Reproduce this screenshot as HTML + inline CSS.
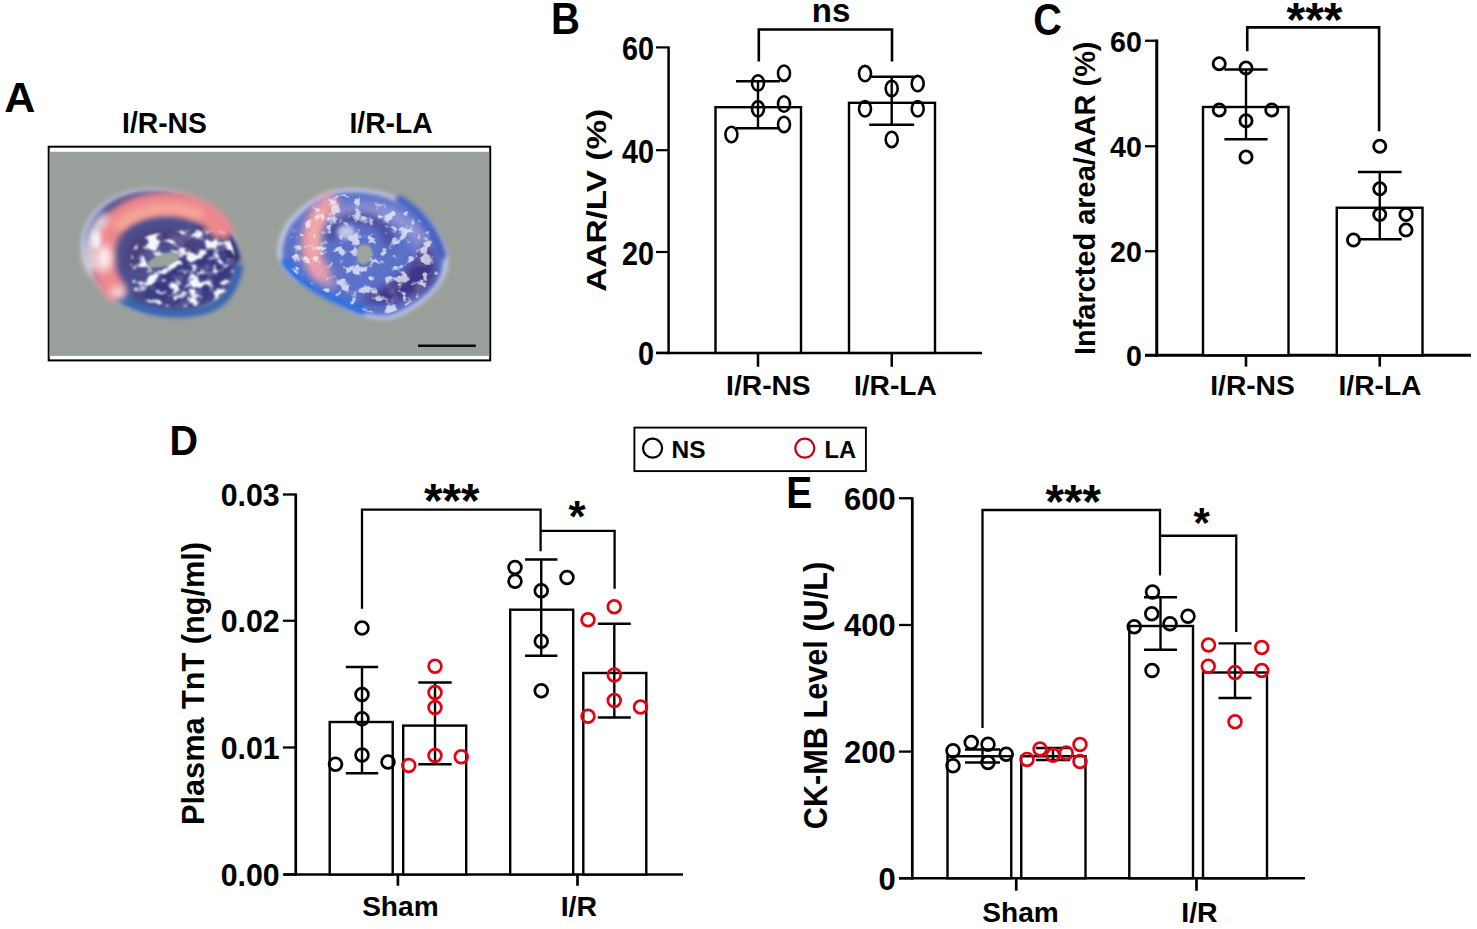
<!DOCTYPE html>
<html><head><meta charset="utf-8"><title>Figure</title>
<style>
html,body{margin:0;padding:0;background:#fff;}
body{width:1477px;height:929px;overflow:hidden;}
svg{display:block;font-family:"Liberation Sans", sans-serif;}
</style></head><body>
<svg width="1477" height="929" viewBox="0 0 1477 929">
<defs><filter id="b1" filterUnits="userSpaceOnUse" x="40" y="140" width="460" height="230"><feGaussianBlur stdDeviation="1"/></filter><filter id="b2" filterUnits="userSpaceOnUse" x="40" y="140" width="460" height="230"><feGaussianBlur stdDeviation="2"/></filter><filter id="b3" filterUnits="userSpaceOnUse" x="40" y="140" width="460" height="230"><feGaussianBlur stdDeviation="3"/></filter><filter id="b4" filterUnits="userSpaceOnUse" x="40" y="140" width="460" height="230"><feGaussianBlur stdDeviation="4"/></filter><filter id="b7" filterUnits="userSpaceOnUse" x="40" y="140" width="460" height="230"><feGaussianBlur stdDeviation="7"/></filter><filter id="spk" filterUnits="userSpaceOnUse" x="40" y="140" width="460" height="230"><feTurbulence type="fractalNoise" baseFrequency="0.075 0.1" numOctaves="3" seed="7" result="n"/><feColorMatrix in="n" type="matrix" values="0 0 0 0 0.93  0 0 0 0 0.94  0 0 0 0 1  9 0 0 0 -4.5" result="w"/><feComposite in="w" in2="SourceAlpha" operator="in" result="c"/><feGaussianBlur in="c" stdDeviation="0.8"/></filter><filter id="spk2" filterUnits="userSpaceOnUse" x="40" y="140" width="460" height="230"><feTurbulence type="fractalNoise" baseFrequency="0.08 0.09" numOctaves="3" seed="11" result="n"/><feColorMatrix in="n" type="matrix" values="0 0 0 0 0.93  0 0 0 0 0.94  0 0 0 0 1  0 8 0 0 -4.4" result="w"/><feComposite in="w" in2="SourceAlpha" operator="in" result="c"/><feGaussianBlur in="c" stdDeviation="0.6"/></filter><filter id="drk" filterUnits="userSpaceOnUse" x="40" y="140" width="460" height="230"><feTurbulence type="fractalNoise" baseFrequency="0.07 0.09" numOctaves="3" seed="23" result="n"/><feColorMatrix in="n" type="matrix" values="0 0 0 0 0.12  0 0 0 0 0.1  0 0 0 0 0.3  0 0 6 0 -3.1" result="w"/><feComposite in="w" in2="SourceAlpha" operator="in" result="c"/><feGaussianBlur in="c" stdDeviation="0.8"/></filter><clipPath id="frameclip"><rect x="49" y="152" width="440" height="204"/></clipPath></defs>
<text x="19.7" y="111.5" font-size="43" font-weight="bold" fill="#000" text-anchor="middle">A</text>
<text x="164.5" y="133" font-size="28.8" font-weight="bold" fill="#000" text-anchor="middle" textLength="84.8" lengthAdjust="spacingAndGlyphs">I/R-NS</text>
<text x="391.1" y="133" font-size="28.8" font-weight="bold" fill="#000" text-anchor="middle" textLength="83.3" lengthAdjust="spacingAndGlyphs">I/R-LA</text>
<rect x="48.7" y="146.7" width="441.5" height="213.7" fill="#fff" stroke="#000" stroke-width="2"/>
<rect x="49.6" y="151.8" width="439.7" height="204.1" fill="#99a09b"/>
<g clip-path="url(#frameclip)">
<g>
<ellipse cx="160.6" cy="252" rx="80" ry="63" transform="rotate(14 160.6 252)" fill="#b9bdd6" filter="url(#b2)"/>
<ellipse cx="161.5" cy="252.5" rx="77" ry="60" transform="rotate(14 161 252)" fill="#4b4f8e" filter="url(#b2)"/>
<path d="M118,296 C140,312 175,318 205,310 C222,305 234,292 239,268" fill="none" stroke="#3a66b2" stroke-width="8.5" stroke-linecap="round" filter="url(#b2)"/>
<path d="M150,278 C170,262 200,240 222,236 C236,250 236,275 222,292 C200,306 165,306 140,296Z" fill="#363880" filter="url(#b4)"/>
<path d="M196,232 C215,225 232,240 235,262" fill="none" stroke="#33336e" stroke-width="12" filter="url(#b2)"/>
<path d="M114,289 C98,268 100,238 118,220 C138,202 175,199 200,211 C210,216 218,224 221,229" fill="none" stroke="#ee888d" stroke-width="23" stroke-linecap="round" filter="url(#b3)"/>
<path d="M120,225 C140,208 172,205 198,214" fill="none" stroke="#f6a597" stroke-width="11" stroke-linecap="round" filter="url(#b3)"/>
<path d="M92,268 C86,250 90,232 104,218" fill="none" stroke="#f4eef2" stroke-width="9" stroke-linecap="round" filter="url(#b4)"/>
<ellipse cx="104" cy="258" rx="8" ry="13" fill="#fbeff0" filter="url(#b4)"/>
<ellipse cx="96" cy="240" rx="5" ry="9" fill="#f2f0f6" filter="url(#b2)"/>
<ellipse cx="118" cy="292" rx="8" ry="5" fill="#f6e6ea" filter="url(#b4)"/>
<path d="M136,268 C128,250 138,236 160,236 C182,234 196,244 190,258" fill="none" stroke="#4a3b6e" stroke-width="10" filter="url(#b4)"/>
<path d="M132,272 C126,250 140,234 162,233 C185,230 205,226 224,232 C240,250 238,280 222,296 C196,312 160,310 134,296Z" fill="#000" filter="url(#drk)"/>
<path d="M132,272 C126,250 140,234 162,233 C185,230 205,226 224,232 C240,250 238,280 222,296 C196,312 160,310 134,296Z" fill="#000" filter="url(#spk)"/>
<ellipse cx="164" cy="260" rx="16.5" ry="6.5" transform="rotate(-18 164 260)" fill="#9aa29e" filter="url(#b1)"/>
</g>
<g>
<path d="M279,249 C282,232 288,222 294,217 C304,206 312,201 321,197 C330,192 338,190 347,190 C360,189 372,191 384,194 C398,199 412,207 422,216 C432,225 438,234 442,243 C446,251 447,259 446,267 C444,276 440,283 435,289 C428,297 421,303 413,307 C404,313 396,317 387,318 C378,319 370,317 361,314 C350,310 340,304 330,298 C318,292 307,286 297,280 C290,275 286,270 283,265 C280,260 279,254 279,249Z" fill="#c3c9e6" filter="url(#b2)" transform="translate(363 254) scale(1.02) translate(-363 -254)"/>
<path d="M279,249 C282,232 288,222 294,217 C304,206 312,201 321,197 C330,192 338,190 347,190 C360,189 372,191 384,194 C398,199 412,207 422,216 C432,225 438,234 442,243 C446,251 447,259 446,267 C444,276 440,283 435,289 C428,297 421,303 413,307 C404,313 396,317 387,318 C378,319 370,317 361,314 C350,310 340,304 330,298 C318,292 307,286 297,280 C290,275 286,270 283,265 C280,260 279,254 279,249Z" fill="#5c72c8" filter="url(#b2)" transform="translate(363 254) scale(0.96) translate(-363 -254)"/>
<path d="M340,215 C365,205 400,212 418,235 C430,255 425,280 405,292" fill="none" stroke="#8f93d4" stroke-width="16" stroke-linecap="round" filter="url(#b4)"/>
<path d="M286,262 C300,282 330,298 362,310" fill="none" stroke="#3570dc" stroke-width="10" stroke-linecap="round" filter="url(#b2)"/>
<path d="M400,200 C420,212 436,232 442,255" fill="none" stroke="#4a63c2" stroke-width="9" stroke-linecap="round" filter="url(#b2)"/>
<path d="M360,300 C385,308 415,302 434,280 C438,264 434,250 424,242 C418,262 398,282 360,300Z" fill="#3d3488" filter="url(#b4)"/>
<path d="M360,300 C385,308 415,302 434,280 C438,264 434,250 424,242 C418,262 398,282 360,300Z" fill="#000" filter="url(#drk)"/>
<path d="M330,240 C332,226 345,216 362,218 C380,220 392,232 388,246" fill="none" stroke="#4a4596" stroke-width="9" filter="url(#b4)"/>
<path d="M330,203 C316,214 309,232 310,248 C311,258 315,266 320,272" fill="none" stroke="#f09ca6" stroke-width="18" stroke-linecap="round" filter="url(#b4)"/>
<path d="M318,268 C321,274 325,279 330,283" fill="none" stroke="#e9a0b4" stroke-width="12" stroke-linecap="round" opacity="0.7" filter="url(#b4)"/>
<path d="M322,212 C314,226 313,240 316,254" fill="none" stroke="#f7b0a8" stroke-width="8" stroke-linecap="round" filter="url(#b4)"/>
<path d="M279,249 C282,232 288,222 294,217 C304,206 312,201 321,197 C330,192 338,190 347,190 C360,189 372,191 384,194 C398,199 412,207 422,216 C432,225 438,234 442,243 C446,251 447,259 446,267 C444,276 440,283 435,289 C428,297 421,303 413,307 C404,313 396,317 387,318 C378,319 370,317 361,314 C350,310 340,304 330,298 C318,292 307,286 297,280 C290,275 286,270 283,265 C280,260 279,254 279,249Z" fill="#000" filter="url(#spk2)" opacity="0.72" transform="translate(363 254) scale(0.93) translate(-363 -254)"/>
<ellipse cx="346" cy="232" rx="9" ry="7" fill="#d9dcf4" opacity="0.8" filter="url(#b2)"/>
<path transform="translate(1 4)" d="M356,246 C358,240 366,238 370,244 C373,250 370,258 364,260 C358,262 354,254 356,246Z" fill="#9ba49f" filter="url(#b1)"/>
</g>
</g>
<line x1="418" y1="345.8" x2="475.8" y2="345.8" stroke="#0a0a0a" stroke-width="2.4" stroke-linecap="butt"/>
<text x="551" y="34.4" font-size="43.5" font-weight="bold" fill="#000" text-anchor="start" textLength="28.9" lengthAdjust="spacingAndGlyphs">B</text>
<line x1="668.6" y1="46.4" x2="668.6" y2="354.2" stroke="#000" stroke-width="2.5" stroke-linecap="butt"/>
<line x1="656" y1="352.9" x2="982" y2="352.9" stroke="#000" stroke-width="2.5" stroke-linecap="butt"/>
<line x1="656" y1="47.4" x2="668.6" y2="47.4" stroke="#000" stroke-width="2.2" stroke-linecap="butt"/>
<text x="653.9" y="59.9" font-size="34.1" font-weight="bold" fill="#000" text-anchor="end" textLength="32" lengthAdjust="spacingAndGlyphs">60</text>
<line x1="656" y1="150.2" x2="668.6" y2="150.2" stroke="#000" stroke-width="2.2" stroke-linecap="butt"/>
<text x="653.9" y="162.7" font-size="34.1" font-weight="bold" fill="#000" text-anchor="end" textLength="32" lengthAdjust="spacingAndGlyphs">40</text>
<line x1="656" y1="252" x2="668.6" y2="252" stroke="#000" stroke-width="2.2" stroke-linecap="butt"/>
<text x="653.9" y="264.5" font-size="34.1" font-weight="bold" fill="#000" text-anchor="end" textLength="32" lengthAdjust="spacingAndGlyphs">20</text>
<line x1="656" y1="352.9" x2="668.6" y2="352.9" stroke="#000" stroke-width="2.2" stroke-linecap="butt"/>
<text x="653.9" y="365.4" font-size="34.1" font-weight="bold" fill="#000" text-anchor="end" textLength="16" lengthAdjust="spacingAndGlyphs">0</text>
<text transform="translate(605.8,291.8) rotate(-90)" font-size="27.8" font-weight="bold" fill="#000" text-anchor="start" textLength="183" lengthAdjust="spacingAndGlyphs">AAR/LV (%)</text>
<rect x="715.5" y="107.2" width="85.5" height="245.7" fill="#fff" stroke="#000" stroke-width="2.4"/>
<rect x="849" y="102.8" width="86" height="250.09999999999997" fill="#fff" stroke="#000" stroke-width="2.4"/>
<line x1="758" y1="352.9" x2="758" y2="366.8" stroke="#000" stroke-width="2.5" stroke-linecap="butt"/>
<line x1="891.75" y1="352.9" x2="891.75" y2="366.8" stroke="#000" stroke-width="2.5" stroke-linecap="butt"/>
<text x="768.4" y="394.5" font-size="28.2" font-weight="bold" fill="#000" text-anchor="middle">I/R-NS</text>
<text x="895.4" y="394.5" font-size="28.2" font-weight="bold" fill="#000" text-anchor="middle">I/R-LA</text>
<line x1="758" y1="81.2" x2="758" y2="128.3" stroke="#000" stroke-width="2.4" stroke-linecap="butt"/>
<line x1="736" y1="81.2" x2="780" y2="81.2" stroke="#000" stroke-width="2.4" stroke-linecap="butt"/>
<line x1="736" y1="128.3" x2="780" y2="128.3" stroke="#000" stroke-width="2.4" stroke-linecap="butt"/>
<line x1="891.7" y1="76.8" x2="891.7" y2="124.7" stroke="#000" stroke-width="2.4" stroke-linecap="butt"/>
<line x1="869.2" y1="76.8" x2="914.2" y2="76.8" stroke="#000" stroke-width="2.4" stroke-linecap="butt"/>
<line x1="869.2" y1="124.7" x2="914.2" y2="124.7" stroke="#000" stroke-width="2.4" stroke-linecap="butt"/>
<ellipse cx="784" cy="73.2" rx="6.0" ry="7.7" fill="none" stroke="#000" stroke-width="2.6"/>
<ellipse cx="758" cy="83" rx="6.0" ry="7.7" fill="none" stroke="#000" stroke-width="2.6"/>
<ellipse cx="784" cy="104" rx="6.0" ry="7.7" fill="none" stroke="#000" stroke-width="2.6"/>
<ellipse cx="758" cy="108.8" rx="6.0" ry="7.7" fill="none" stroke="#000" stroke-width="2.6"/>
<ellipse cx="784" cy="124.4" rx="6.0" ry="7.7" fill="none" stroke="#000" stroke-width="2.6"/>
<ellipse cx="731.4" cy="134.5" rx="6.0" ry="7.7" fill="none" stroke="#000" stroke-width="2.6"/>
<ellipse cx="865" cy="73.6" rx="6.0" ry="7.7" fill="none" stroke="#000" stroke-width="2.6"/>
<ellipse cx="917.7" cy="83.6" rx="6.0" ry="7.7" fill="none" stroke="#000" stroke-width="2.6"/>
<ellipse cx="891.7" cy="88.5" rx="6.0" ry="7.7" fill="none" stroke="#000" stroke-width="2.6"/>
<ellipse cx="865" cy="108.8" rx="6.0" ry="7.7" fill="none" stroke="#000" stroke-width="2.6"/>
<ellipse cx="917.7" cy="108.8" rx="6.0" ry="7.7" fill="none" stroke="#000" stroke-width="2.6"/>
<ellipse cx="891.7" cy="139.4" rx="6.0" ry="7.7" fill="none" stroke="#000" stroke-width="2.6"/>
<polyline points="758.8,61.4 758.8,29.5 892,29.5 892,61.4" fill="none" stroke="#000" stroke-width="2.6" stroke-linejoin="miter"/>
<text x="831" y="21.9" font-size="33" font-weight="bold" fill="#000" text-anchor="middle">ns</text>
<text x="1033.3" y="34.5" font-size="44" font-weight="bold" fill="#000" text-anchor="start" textLength="28.6" lengthAdjust="spacingAndGlyphs">C</text>
<line x1="1156.75" y1="39.6" x2="1156.75" y2="356.8" stroke="#000" stroke-width="3.0" stroke-linecap="butt"/>
<line x1="1145" y1="355.3" x2="1471" y2="355.3" stroke="#000" stroke-width="3.0" stroke-linecap="butt"/>
<line x1="1145" y1="40.75" x2="1156.75" y2="40.75" stroke="#000" stroke-width="2.3" stroke-linecap="butt"/>
<text x="1141.8" y="51.65" font-size="29.8" font-weight="bold" fill="#000" text-anchor="end" textLength="31.8" lengthAdjust="spacingAndGlyphs">60</text>
<line x1="1145" y1="146.25" x2="1156.75" y2="146.25" stroke="#000" stroke-width="2.3" stroke-linecap="butt"/>
<text x="1141.8" y="157.15" font-size="29.8" font-weight="bold" fill="#000" text-anchor="end" textLength="31.8" lengthAdjust="spacingAndGlyphs">40</text>
<line x1="1145" y1="251.25" x2="1156.75" y2="251.25" stroke="#000" stroke-width="2.3" stroke-linecap="butt"/>
<text x="1141.8" y="262.15" font-size="29.8" font-weight="bold" fill="#000" text-anchor="end" textLength="31.8" lengthAdjust="spacingAndGlyphs">20</text>
<line x1="1145" y1="355.3" x2="1156.75" y2="355.3" stroke="#000" stroke-width="2.3" stroke-linecap="butt"/>
<text x="1141.8" y="366.2" font-size="29.8" font-weight="bold" fill="#000" text-anchor="end" textLength="15.9" lengthAdjust="spacingAndGlyphs">0</text>
<text transform="translate(1095,355) rotate(-90)" font-size="29.4" font-weight="bold" fill="#000" text-anchor="start" textLength="313.5" lengthAdjust="spacingAndGlyphs">Infarcted area/AAR (%)</text>
<rect x="1203" y="107" width="85.5" height="248.3" fill="#fff" stroke="#000" stroke-width="2.4"/>
<rect x="1336.75" y="207.75" width="85.75" height="147.55" fill="#fff" stroke="#000" stroke-width="2.4"/>
<line x1="1246" y1="355.3" x2="1246" y2="366.6" stroke="#000" stroke-width="2.5999999999999996" stroke-linecap="butt"/>
<line x1="1379.75" y1="355.3" x2="1379.75" y2="366.6" stroke="#000" stroke-width="2.5999999999999996" stroke-linecap="butt"/>
<text x="1252.5" y="394.5" font-size="28.2" font-weight="bold" fill="#000" text-anchor="middle">I/R-NS</text>
<text x="1380" y="394.5" font-size="28.2" font-weight="bold" fill="#000" text-anchor="middle">I/R-LA</text>
<line x1="1246" y1="69.5" x2="1246" y2="139.25" stroke="#000" stroke-width="2.4" stroke-linecap="butt"/>
<line x1="1224.4" y1="69.5" x2="1267.6" y2="69.5" stroke="#000" stroke-width="2.4" stroke-linecap="butt"/>
<line x1="1224.4" y1="139.25" x2="1267.6" y2="139.25" stroke="#000" stroke-width="2.4" stroke-linecap="butt"/>
<line x1="1379.75" y1="172" x2="1379.75" y2="239.25" stroke="#000" stroke-width="2.4" stroke-linecap="butt"/>
<line x1="1357.85" y1="172" x2="1401.65" y2="172" stroke="#000" stroke-width="2.4" stroke-linecap="butt"/>
<line x1="1357.85" y1="239.25" x2="1401.65" y2="239.25" stroke="#000" stroke-width="2.4" stroke-linecap="butt"/>
<circle cx="1219.25" cy="63.75" r="6.1" fill="none" stroke="#000" stroke-width="2.8"/>
<circle cx="1246" cy="68" r="6.1" fill="none" stroke="#000" stroke-width="2.8"/>
<circle cx="1219.25" cy="110" r="6.1" fill="none" stroke="#000" stroke-width="2.8"/>
<circle cx="1271.75" cy="110" r="6.1" fill="none" stroke="#000" stroke-width="2.8"/>
<circle cx="1246" cy="120.75" r="6.1" fill="none" stroke="#000" stroke-width="2.8"/>
<circle cx="1246" cy="157" r="6.1" fill="none" stroke="#000" stroke-width="2.8"/>
<circle cx="1379.75" cy="146.25" r="6.1" fill="none" stroke="#000" stroke-width="2.8"/>
<circle cx="1379.75" cy="188.75" r="6.1" fill="none" stroke="#000" stroke-width="2.8"/>
<circle cx="1379.75" cy="214.5" r="6.1" fill="none" stroke="#000" stroke-width="2.8"/>
<circle cx="1406" cy="214.5" r="6.1" fill="none" stroke="#000" stroke-width="2.8"/>
<circle cx="1406" cy="230" r="6.1" fill="none" stroke="#000" stroke-width="2.8"/>
<circle cx="1353.5" cy="240" r="6.1" fill="none" stroke="#000" stroke-width="2.8"/>
<polyline points="1247.25,51.25 1247.25,27.4 1379.1,27.4 1379.1,131.25" fill="none" stroke="#000" stroke-width="2.6" stroke-linejoin="miter"/>
<text x="1314.5" y="36.1" font-size="48" font-weight="bold" fill="#000" text-anchor="middle">***</text>
<rect x="634.4" y="427.6" width="231.5" height="43.5" fill="#fff" stroke="#000" stroke-width="1.9"/>
<circle cx="652.6" cy="448.2" r="9.5" fill="none" stroke="#000" stroke-width="2.2"/>
<circle cx="804.8" cy="448.2" r="9.5" fill="none" stroke="#c4000f" stroke-width="2.2"/>
<text x="671.5" y="457.5" font-size="24" font-weight="bold" fill="#000" text-anchor="start" textLength="34" lengthAdjust="spacingAndGlyphs">NS</text>
<text x="824.5" y="457.5" font-size="24" font-weight="bold" fill="#000" text-anchor="start" textLength="31.5" lengthAdjust="spacingAndGlyphs">LA</text>
<text x="169.5" y="454.7" font-size="43" font-weight="bold" fill="#000" text-anchor="start" textLength="28.5" lengthAdjust="spacingAndGlyphs">D</text>
<line x1="295.75" y1="493.6" x2="295.75" y2="875.8" stroke="#000" stroke-width="2.7" stroke-linecap="butt"/>
<line x1="283.75" y1="874.5" x2="683" y2="874.5" stroke="#000" stroke-width="2.7" stroke-linecap="butt"/>
<line x1="282.9" y1="494.5" x2="295.75" y2="494.5" stroke="#000" stroke-width="2.3" stroke-linecap="butt"/>
<text x="279.7" y="506.0" font-size="32" font-weight="bold" fill="#000" text-anchor="end" textLength="59" lengthAdjust="spacingAndGlyphs">0.03</text>
<line x1="282.9" y1="620.75" x2="295.75" y2="620.75" stroke="#000" stroke-width="2.3" stroke-linecap="butt"/>
<text x="279.7" y="632.25" font-size="32" font-weight="bold" fill="#000" text-anchor="end" textLength="59" lengthAdjust="spacingAndGlyphs">0.02</text>
<line x1="282.9" y1="747.5" x2="295.75" y2="747.5" stroke="#000" stroke-width="2.3" stroke-linecap="butt"/>
<text x="279.7" y="759.0" font-size="32" font-weight="bold" fill="#000" text-anchor="end" textLength="59" lengthAdjust="spacingAndGlyphs">0.01</text>
<line x1="282.9" y1="874.5" x2="295.75" y2="874.5" stroke="#000" stroke-width="2.3" stroke-linecap="butt"/>
<text x="279.7" y="886.0" font-size="32" font-weight="bold" fill="#000" text-anchor="end" textLength="59" lengthAdjust="spacingAndGlyphs">0.00</text>
<text transform="translate(204,825) rotate(-90)" font-size="30.5" font-weight="bold" fill="#000" text-anchor="start" textLength="283.1" lengthAdjust="spacingAndGlyphs">Plasma TnT (ng/ml)</text>
<rect x="329.7" y="722" width="63.0" height="152.5" fill="#fff" stroke="#000" stroke-width="2.4"/>
<rect x="403.2" y="725.6" width="63.0" height="148.89999999999998" fill="#fff" stroke="#000" stroke-width="2.4"/>
<rect x="510.2" y="609.7" width="63.00000000000006" height="264.79999999999995" fill="#fff" stroke="#000" stroke-width="2.4"/>
<rect x="583.3" y="673" width="63.0" height="201.5" fill="#fff" stroke="#000" stroke-width="2.4"/>
<line x1="397.9" y1="874.5" x2="397.9" y2="885.75" stroke="#000" stroke-width="2.6999999999999997" stroke-linecap="butt"/>
<line x1="577.5" y1="874.5" x2="577.5" y2="885.75" stroke="#000" stroke-width="2.6999999999999997" stroke-linecap="butt"/>
<text x="400.4" y="915.9" font-size="28.5" font-weight="bold" fill="#000" text-anchor="middle" textLength="76.5" lengthAdjust="spacingAndGlyphs">Sham</text>
<text x="578.9" y="915.9" font-size="28.5" font-weight="bold" fill="#000" text-anchor="middle">I/R</text>
<line x1="362" y1="667" x2="362" y2="773.25" stroke="#000" stroke-width="2.4" stroke-linecap="butt"/>
<line x1="345.8" y1="667" x2="378.2" y2="667" stroke="#000" stroke-width="2.4" stroke-linecap="butt"/>
<line x1="345.8" y1="773.25" x2="378.2" y2="773.25" stroke="#000" stroke-width="2.4" stroke-linecap="butt"/>
<line x1="435" y1="682.5" x2="435" y2="764.25" stroke="#000" stroke-width="2.4" stroke-linecap="butt"/>
<line x1="418.3" y1="682.5" x2="451.7" y2="682.5" stroke="#000" stroke-width="2.4" stroke-linecap="butt"/>
<line x1="418.3" y1="764.25" x2="451.7" y2="764.25" stroke="#000" stroke-width="2.4" stroke-linecap="butt"/>
<line x1="541.25" y1="559.5" x2="541.25" y2="655.8" stroke="#000" stroke-width="2.4" stroke-linecap="butt"/>
<line x1="525.05" y1="559.5" x2="557.45" y2="559.5" stroke="#000" stroke-width="2.4" stroke-linecap="butt"/>
<line x1="525.05" y1="655.8" x2="557.45" y2="655.8" stroke="#000" stroke-width="2.4" stroke-linecap="butt"/>
<line x1="614.3" y1="623.75" x2="614.3" y2="717.5" stroke="#000" stroke-width="2.4" stroke-linecap="butt"/>
<line x1="597.8" y1="623.75" x2="630.8" y2="623.75" stroke="#000" stroke-width="2.4" stroke-linecap="butt"/>
<line x1="597.8" y1="717.5" x2="630.8" y2="717.5" stroke="#000" stroke-width="2.4" stroke-linecap="butt"/>
<circle cx="362" cy="628" r="6.4" fill="none" stroke="#000" stroke-width="2.7"/>
<circle cx="362" cy="694.5" r="6.4" fill="none" stroke="#000" stroke-width="2.7"/>
<circle cx="362" cy="718.75" r="6.4" fill="none" stroke="#000" stroke-width="2.7"/>
<circle cx="362" cy="755" r="6.4" fill="none" stroke="#000" stroke-width="2.7"/>
<circle cx="335.5" cy="764.25" r="6.4" fill="none" stroke="#000" stroke-width="2.7"/>
<circle cx="388" cy="762" r="6.4" fill="none" stroke="#000" stroke-width="2.7"/>
<circle cx="515" cy="567.5" r="6.4" fill="none" stroke="#000" stroke-width="2.7"/>
<circle cx="515" cy="581.25" r="6.4" fill="none" stroke="#000" stroke-width="2.7"/>
<circle cx="567" cy="577.5" r="6.4" fill="none" stroke="#000" stroke-width="2.7"/>
<circle cx="541.25" cy="590.75" r="6.4" fill="none" stroke="#000" stroke-width="2.7"/>
<circle cx="541.25" cy="641.25" r="6.4" fill="none" stroke="#000" stroke-width="2.7"/>
<circle cx="541.25" cy="690.75" r="6.4" fill="none" stroke="#000" stroke-width="2.7"/>
<circle cx="435" cy="666.25" r="6.4" fill="none" stroke="#e60012" stroke-width="2.7"/>
<circle cx="435" cy="692.5" r="6.4" fill="none" stroke="#e60012" stroke-width="2.7"/>
<circle cx="435" cy="707.5" r="6.4" fill="none" stroke="#e60012" stroke-width="2.7"/>
<circle cx="435" cy="755.5" r="6.4" fill="none" stroke="#e60012" stroke-width="2.7"/>
<circle cx="408.75" cy="765.5" r="6.4" fill="none" stroke="#e60012" stroke-width="2.7"/>
<circle cx="461.25" cy="756.75" r="6.4" fill="none" stroke="#e60012" stroke-width="2.7"/>
<circle cx="614.25" cy="606.75" r="6.4" fill="none" stroke="#e60012" stroke-width="2.7"/>
<circle cx="588" cy="619.75" r="6.4" fill="none" stroke="#e60012" stroke-width="2.7"/>
<circle cx="614.25" cy="675" r="6.4" fill="none" stroke="#e60012" stroke-width="2.7"/>
<circle cx="614.25" cy="700.5" r="6.4" fill="none" stroke="#e60012" stroke-width="2.7"/>
<circle cx="640.5" cy="707" r="6.4" fill="none" stroke="#e60012" stroke-width="2.7"/>
<circle cx="588" cy="716.25" r="6.4" fill="none" stroke="#e60012" stroke-width="2.7"/>
<polyline points="362,608.75 362,509.6 540.6,509.6 540.6,551.25" fill="none" stroke="#000" stroke-width="2.3" stroke-linejoin="miter"/>
<polyline points="540.6,530.9 614.6,530.9 614.6,588.75" fill="none" stroke="#000" stroke-width="2.3" stroke-linejoin="miter"/>
<text x="451.8" y="516.6" font-size="47.5" font-weight="bold" fill="#000" text-anchor="middle">***</text>
<text x="577" y="531.6" font-size="44" font-weight="bold" fill="#000" text-anchor="middle">*</text>
<text x="786.3" y="507.5" font-size="43.5" font-weight="bold" fill="#000" text-anchor="start" textLength="26" lengthAdjust="spacingAndGlyphs">E</text>
<line x1="912.3" y1="497.3" x2="912.3" y2="879.6" stroke="#000" stroke-width="2.7" stroke-linecap="butt"/>
<line x1="899" y1="878.25" x2="1305" y2="878.25" stroke="#000" stroke-width="2.7" stroke-linecap="butt"/>
<line x1="899" y1="498.25" x2="912.3" y2="498.25" stroke="#000" stroke-width="2.3" stroke-linecap="butt"/>
<text x="895.6" y="509.55" font-size="31" font-weight="bold" fill="#000" text-anchor="end" textLength="51.5" lengthAdjust="spacingAndGlyphs">600</text>
<line x1="899" y1="625" x2="912.3" y2="625" stroke="#000" stroke-width="2.3" stroke-linecap="butt"/>
<text x="895.6" y="636.3" font-size="31" font-weight="bold" fill="#000" text-anchor="end" textLength="51.5" lengthAdjust="spacingAndGlyphs">400</text>
<line x1="899" y1="751.6" x2="912.3" y2="751.6" stroke="#000" stroke-width="2.3" stroke-linecap="butt"/>
<text x="895.6" y="762.9" font-size="31" font-weight="bold" fill="#000" text-anchor="end" textLength="51.5" lengthAdjust="spacingAndGlyphs">200</text>
<line x1="899" y1="878.25" x2="912.3" y2="878.25" stroke="#000" stroke-width="2.3" stroke-linecap="butt"/>
<text x="895.6" y="889.55" font-size="31" font-weight="bold" fill="#000" text-anchor="end" textLength="17.2" lengthAdjust="spacingAndGlyphs">0</text>
<text transform="translate(827,829.2) rotate(-90)" font-size="32.8" font-weight="bold" fill="#000" text-anchor="start" textLength="267.4" lengthAdjust="spacingAndGlyphs">CK-MB Level (U/L)</text>
<rect x="947.5" y="756.25" width="63.75" height="122.0" fill="#fff" stroke="#000" stroke-width="2.4"/>
<rect x="1021.25" y="756.25" width="64.25" height="122.0" fill="#fff" stroke="#000" stroke-width="2.4"/>
<rect x="1129.3" y="626" width="63.700000000000045" height="252.25" fill="#fff" stroke="#000" stroke-width="2.4"/>
<rect x="1203" y="672.5" width="64" height="205.75" fill="#fff" stroke="#000" stroke-width="2.4"/>
<line x1="1016.25" y1="878.25" x2="1016.25" y2="890.75" stroke="#000" stroke-width="2.6999999999999997" stroke-linecap="butt"/>
<line x1="1196.5" y1="878.25" x2="1196.5" y2="890.75" stroke="#000" stroke-width="2.6999999999999997" stroke-linecap="butt"/>
<text x="1020.6" y="922.1" font-size="28.5" font-weight="bold" fill="#000" text-anchor="middle" textLength="76.5" lengthAdjust="spacingAndGlyphs">Sham</text>
<text x="1199.5" y="922.1" font-size="28.5" font-weight="bold" fill="#000" text-anchor="middle">I/R</text>
<line x1="982.5" y1="749.5" x2="982.5" y2="762.5" stroke="#000" stroke-width="2.4" stroke-linecap="butt"/>
<line x1="965.0" y1="749.5" x2="1000.0" y2="749.5" stroke="#000" stroke-width="2.4" stroke-linecap="butt"/>
<line x1="965.0" y1="762.5" x2="1000.0" y2="762.5" stroke="#000" stroke-width="2.4" stroke-linecap="butt"/>
<line x1="1053" y1="748" x2="1053" y2="760" stroke="#000" stroke-width="2.4" stroke-linecap="butt"/>
<line x1="1036" y1="748" x2="1070" y2="748" stroke="#000" stroke-width="2.4" stroke-linecap="butt"/>
<line x1="1036" y1="760" x2="1070" y2="760" stroke="#000" stroke-width="2.4" stroke-linecap="butt"/>
<line x1="1160.5" y1="597.3" x2="1160.5" y2="649.7" stroke="#000" stroke-width="2.4" stroke-linecap="butt"/>
<line x1="1144.0" y1="597.3" x2="1177.0" y2="597.3" stroke="#000" stroke-width="2.4" stroke-linecap="butt"/>
<line x1="1144.0" y1="649.7" x2="1177.0" y2="649.7" stroke="#000" stroke-width="2.4" stroke-linecap="butt"/>
<line x1="1235" y1="643.4" x2="1235" y2="698" stroke="#000" stroke-width="2.4" stroke-linecap="butt"/>
<line x1="1218.5" y1="643.4" x2="1251.5" y2="643.4" stroke="#000" stroke-width="2.4" stroke-linecap="butt"/>
<line x1="1218.5" y1="698" x2="1251.5" y2="698" stroke="#000" stroke-width="2.4" stroke-linecap="butt"/>
<circle cx="953" cy="750.75" r="6.4" fill="none" stroke="#000" stroke-width="2.7"/>
<circle cx="953" cy="765.75" r="6.4" fill="none" stroke="#000" stroke-width="2.7"/>
<circle cx="971.25" cy="742.5" r="6.4" fill="none" stroke="#000" stroke-width="2.7"/>
<circle cx="988" cy="744.25" r="6.4" fill="none" stroke="#000" stroke-width="2.7"/>
<circle cx="988" cy="762.5" r="6.4" fill="none" stroke="#000" stroke-width="2.7"/>
<circle cx="1006.25" cy="754.25" r="6.4" fill="none" stroke="#000" stroke-width="2.7"/>
<circle cx="1152.5" cy="592" r="6.4" fill="none" stroke="#000" stroke-width="2.7"/>
<circle cx="1151.75" cy="613.75" r="6.4" fill="none" stroke="#000" stroke-width="2.7"/>
<circle cx="1188" cy="616.25" r="6.4" fill="none" stroke="#000" stroke-width="2.7"/>
<circle cx="1170" cy="623.75" r="6.4" fill="none" stroke="#000" stroke-width="2.7"/>
<circle cx="1134.25" cy="626.75" r="6.4" fill="none" stroke="#000" stroke-width="2.7"/>
<circle cx="1152" cy="670.5" r="6.4" fill="none" stroke="#000" stroke-width="2.7"/>
<circle cx="1027" cy="759.4" r="6.4" fill="none" stroke="#e60012" stroke-width="2.7"/>
<circle cx="1040" cy="749" r="6.4" fill="none" stroke="#e60012" stroke-width="2.7"/>
<circle cx="1053" cy="755.3" r="6.4" fill="none" stroke="#e60012" stroke-width="2.7"/>
<circle cx="1066.25" cy="753.1" r="6.4" fill="none" stroke="#e60012" stroke-width="2.7"/>
<circle cx="1080" cy="744.5" r="6.4" fill="none" stroke="#e60012" stroke-width="2.7"/>
<circle cx="1080" cy="761.5" r="6.4" fill="none" stroke="#e60012" stroke-width="2.7"/>
<circle cx="1208.5" cy="645" r="6.4" fill="none" stroke="#e60012" stroke-width="2.7"/>
<circle cx="1261.75" cy="647.5" r="6.4" fill="none" stroke="#e60012" stroke-width="2.7"/>
<circle cx="1208.25" cy="666.25" r="6.4" fill="none" stroke="#e60012" stroke-width="2.7"/>
<circle cx="1261.75" cy="670.5" r="6.4" fill="none" stroke="#e60012" stroke-width="2.7"/>
<circle cx="1235" cy="672.5" r="6.4" fill="none" stroke="#e60012" stroke-width="2.7"/>
<circle cx="1235" cy="721.75" r="6.4" fill="none" stroke="#e60012" stroke-width="2.7"/>
<polyline points="982.5,728 982.5,510 1160,510 1160,575.5" fill="none" stroke="#000" stroke-width="2.3" stroke-linejoin="miter"/>
<polyline points="1160,535.75 1236.25,535.75 1236.25,632" fill="none" stroke="#000" stroke-width="2.3" stroke-linejoin="miter"/>
<text x="1073.3" y="517.6" font-size="47.5" font-weight="bold" fill="#000" text-anchor="middle">***</text>
<text x="1201.6" y="537" font-size="42" font-weight="bold" fill="#000" text-anchor="middle">*</text>
</svg>
</body></html>
